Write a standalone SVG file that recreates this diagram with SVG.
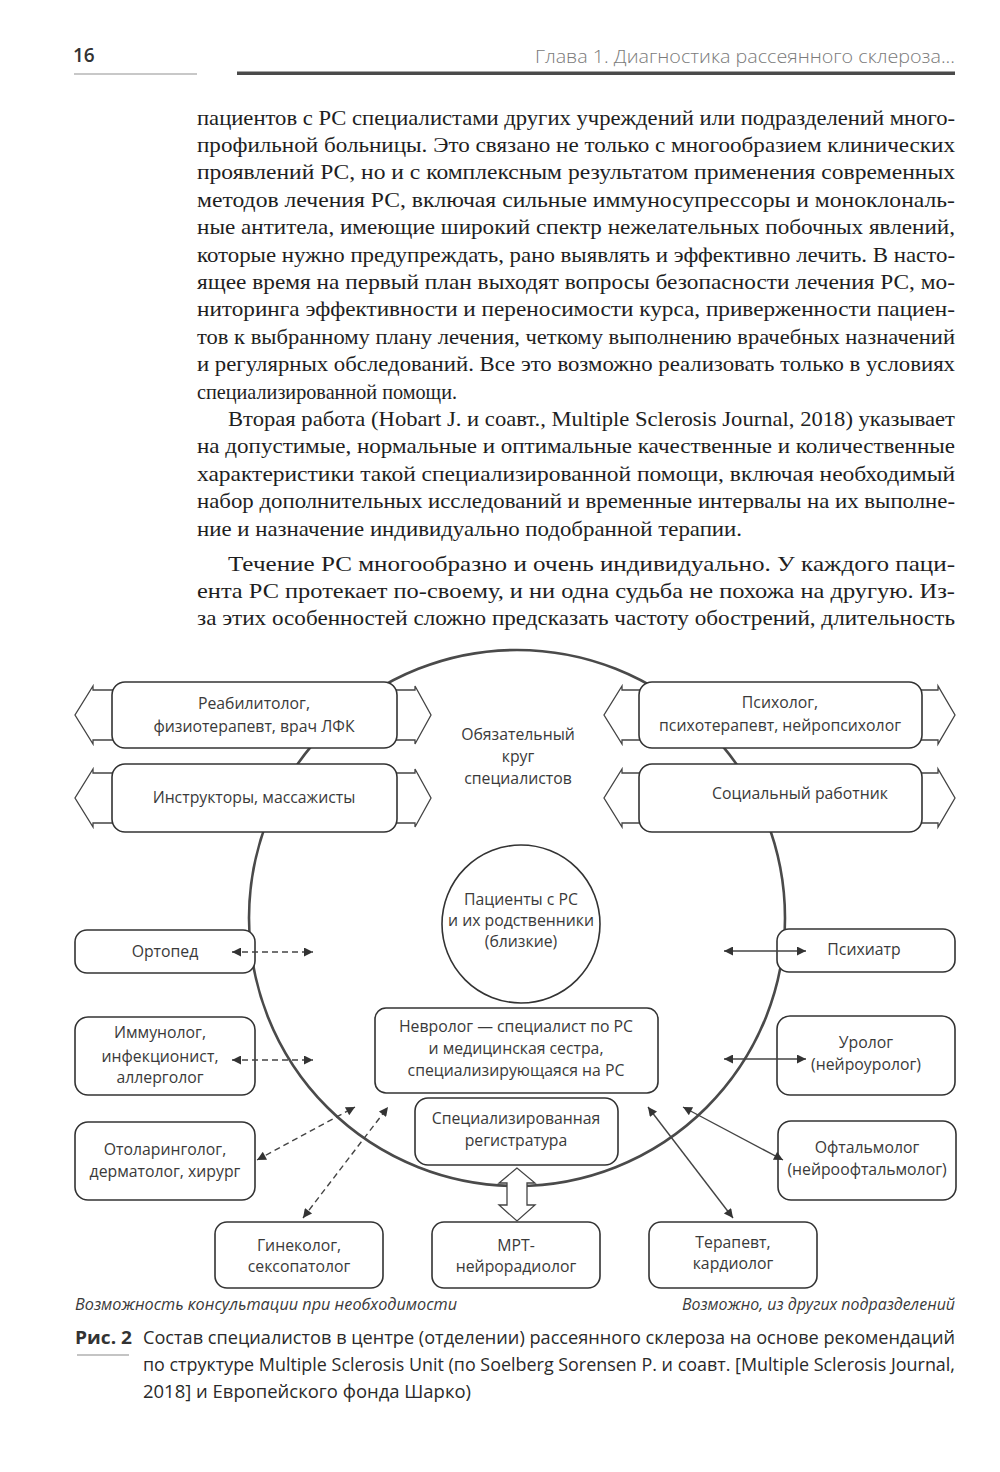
<svg xmlns="http://www.w3.org/2000/svg" width="1000" height="1472" viewBox="0 0 1000 1472">
<style>
.body{font-family:"Liberation Serif","DejaVu Serif",serif;font-size:22px;fill:#1e1e1e}
.d{font-family:"Open Sans","DejaVu Sans",sans-serif;font-size:15.8px;fill:#3a3a3a;text-anchor:middle}
.lg{font-family:"Open Sans","DejaVu Sans",sans-serif;font-size:16px;fill:#3a3a3a;font-style:italic}
.cap{font-family:"Open Sans","DejaVu Sans",sans-serif;font-size:18px;fill:#2a2a2a}
.box{fill:#fff;stroke:#333;stroke-width:1.6}
.dbl{fill:#fff;stroke:#444;stroke-width:1.3;stroke-linejoin:miter}
.con{stroke:#444;stroke-width:1.4;fill:none}
.dash{stroke-dasharray:6,4}
</style>
<defs>
<marker id="ah" viewBox="0 0 10 10" refX="10" refY="5" markerUnits="userSpaceOnUse" markerWidth="14" markerHeight="9" orient="auto-start-reverse">
<path d="M0,0 L10,5 L0,10 z" fill="#333"/>
</marker>
</defs>
<rect width="1000" height="1472" fill="#fff"/>

<!-- header -->
<text x="73" y="62" font-family="Open Sans, DejaVu Sans, sans-serif" font-size="19" font-weight="600" fill="#333">16</text>
<rect x="74" y="73" width="123" height="2" fill="#c8c8c8"/>
<text x="955" y="63" font-family="Open Sans, DejaVu Sans, sans-serif" font-size="18.5" font-weight="300" fill="#7a7a7a" text-anchor="end" textLength="420" lengthAdjust="spacingAndGlyphs">Глава 1. Диагностика рассеянного склероза...</text>
<rect x="237" y="71.5" width="718" height="3.5" fill="#4a4a4a"/>

<!-- body text -->
<g class="body">
<text x="197" y="124.5" textLength="758" lengthAdjust="spacingAndGlyphs">пациентов с РС специалистами других учреждений или подразделений много-</text>
<text x="197" y="151.9" textLength="758" lengthAdjust="spacingAndGlyphs">профильной больницы. Это связано не только с многообразием клинических</text>
<text x="197" y="179.3" textLength="758" lengthAdjust="spacingAndGlyphs">проявлений РС, но и с комплексным результатом применения современных</text>
<text x="197" y="206.7" textLength="758" lengthAdjust="spacingAndGlyphs">методов лечения РС, включая сильные иммуносупрессоры и моноклональ-</text>
<text x="197" y="234.1" textLength="758" lengthAdjust="spacingAndGlyphs">ные антитела, имеющие широкий спектр нежелательных побочных явлений,</text>
<text x="197" y="261.5" textLength="758" lengthAdjust="spacingAndGlyphs">которые нужно предупреждать, рано выявлять и эффективно лечить. В насто-</text>
<text x="197" y="288.9" textLength="758" lengthAdjust="spacingAndGlyphs">ящее время на первый план выходят вопросы безопасности лечения РС, мо-</text>
<text x="197" y="316.3" textLength="758" lengthAdjust="spacingAndGlyphs">ниторинга эффективности и переносимости курса, приверженности пациен-</text>
<text x="197" y="343.7" textLength="758" lengthAdjust="spacingAndGlyphs">тов к выбранному плану лечения, четкому выполнению врачебных назначений</text>
<text x="197" y="371.1" textLength="758" lengthAdjust="spacingAndGlyphs">и регулярных обследований. Все это возможно реализовать только в условиях</text>
<text x="197" y="398.5" textLength="260" lengthAdjust="spacingAndGlyphs">специализированной помощи.</text>
<text x="228" y="425.9" textLength="727" lengthAdjust="spacingAndGlyphs">Вторая работа (Hobart J. и соавт., Multiple Sclerosis Journal, 2018) указывает</text>
<text x="197" y="453.3" textLength="758" lengthAdjust="spacingAndGlyphs">на допустимые, нормальные и оптимальные качественные и количественные</text>
<text x="197" y="480.7" textLength="758" lengthAdjust="spacingAndGlyphs">характеристики такой специализированной помощи, включая необходимый</text>
<text x="197" y="508.1" textLength="758" lengthAdjust="spacingAndGlyphs">набор дополнительных исследований и временные интервалы на их выполне-</text>
<text x="197" y="535.5" textLength="545" lengthAdjust="spacingAndGlyphs">ние и назначение индивидуально подобранной терапии.</text>
<text x="228" y="570.5" textLength="727" lengthAdjust="spacingAndGlyphs">Течение РС многообразно и очень индивидуально. У каждого паци-</text>
<text x="197" y="597.9" textLength="758" lengthAdjust="spacingAndGlyphs">ента РС протекает по-своему, и ни одна судьба не похожа на другую. Из-</text>
<text x="197" y="625.3" textLength="758" lengthAdjust="spacingAndGlyphs">за этих особенностей сложно предсказать частоту обострений, длительность</text>
</g>

<!-- big circle -->
<g id="circle-main">
<circle cx="517" cy="918" r="268" fill="none" stroke="#4a4a4a" stroke-width="2.6"/>
<text class="d" x="518" y="740">Обязательный</text>
<text class="d" x="518" y="762">круг</text>
<text class="d" x="518" y="784">специалистов</text>
</g>

<!-- top left -->
<g id="n-reab">
<polygon class="dbl" points="120,690 93,690 93,686 75,715 93,744 93,740 120,740"/>
<polygon class="dbl" points="390,690 415,690 415,686 431,715 415,744 415,740 390,740"/>
<rect class="box" x="112" y="682" width="285" height="66" rx="13"/>
<text class="d" x="254" y="709">Реабилитолог,</text>
<text class="d" x="254" y="732">физиотерапевт, врач ЛФК</text>
</g>
<g id="n-instr">
<polygon class="dbl" points="120,773 93,773 93,769 75,798 93,827 93,823 120,823"/>
<polygon class="dbl" points="390,773 415,773 415,769 431,798 415,827 415,823 390,823"/>
<rect class="box" x="112" y="764" width="285" height="68" rx="13"/>
<text class="d" x="254" y="803">Инструкторы, массажисты</text>
</g>
<!-- top right -->
<g id="n-psych">
<polygon class="dbl" points="647,690 622,690 622,686 604,715 622,744 622,740 647,740"/>
<polygon class="dbl" points="914,690 938,690 938,686 955,715 938,744 938,740 914,740"/>
<rect class="box" x="639" y="682" width="283" height="66" rx="13"/>
<text class="d" x="780" y="708">Психолог,</text>
<text class="d" x="780" y="731">психотерапевт, нейропсихолог</text>
</g>
<g id="n-social">
<polygon class="dbl" points="647,773 622,773 622,769 604,798 622,827 622,823 647,823"/>
<polygon class="dbl" points="914,773 938,773 938,769 955,798 938,827 938,823 914,823"/>
<rect class="box" x="639" y="764" width="283" height="68" rx="13"/>
<text class="d" x="800" y="799">Социальный работник</text>
</g>

<!-- patients -->
<g id="n-patients">
<circle cx="521" cy="924" r="79" fill="#fff" stroke="#333" stroke-width="1.6"/>
<text class="d" x="521" y="905">Пациенты с РС</text>
<text class="d" x="521" y="926">и их родственники</text>
<text class="d" x="521" y="947">(близкие)</text>
</g>

<g id="n-neuro">
<rect class="box" x="375" y="1008" width="283" height="85" rx="11" stroke-width="2.6"/>
<text class="d" x="516" y="1032">Невролог — специалист по РС</text>
<text class="d" x="516" y="1054">и медицинская сестра,</text>
<text class="d" x="516" y="1076">специализирующаяся на РС</text>
</g>
<g id="n-reg">
<rect class="box" x="415" y="1098" width="203" height="67" rx="13"/>
<text class="d" x="516" y="1124">Специализированная</text>
<text class="d" x="516" y="1146">регистратура</text>
</g>

<g id="n-ortho">
<rect class="box" x="75" y="930" width="180" height="43" rx="12"/>
<text class="d" x="165" y="957">Ортопед</text>
</g>
<g id="n-immuno">
<rect class="box" x="75" y="1017" width="180" height="78" rx="13"/>
<text class="d" x="160" y="1038">Иммунолог,</text>
<text class="d" x="160" y="1062">инфекционист,</text>
<text class="d" x="160" y="1083">аллерголог</text>
</g>
<g id="n-oto">
<rect class="box" x="75" y="1122" width="180" height="78" rx="13"/>
<text class="d" x="165" y="1155">Отоларинголог,</text>
<text class="d" x="165" y="1177">дерматолог, хирург</text>
</g>
<g id="n-psychiatr">
<rect class="box" x="777" y="929" width="178" height="43" rx="12"/>
<text class="d" x="864" y="955">Психиатр</text>
</g>
<g id="n-uro">
<rect class="box" x="777" y="1016" width="178" height="79" rx="13"/>
<text class="d" x="866" y="1048">Уролог</text>
<text class="d" x="866" y="1070">(нейроуролог)</text>
</g>
<g id="n-oft">
<rect class="box" x="778" y="1121" width="178" height="79" rx="13"/>
<text class="d" x="867" y="1153">Офтальмолог</text>
<text class="d" x="867" y="1175">(нейроофтальмолог)</text>
</g>
<g id="n-gyn">
<rect class="box" x="215" y="1222" width="168" height="66" rx="12"/>
<text class="d" x="299" y="1251">Гинеколог,</text>
<text class="d" x="299" y="1272">сексопатолог</text>
</g>
<g id="n-mrt">
<rect class="box" x="432" y="1222" width="168" height="66" rx="12"/>
<text class="d" x="516" y="1251">МРТ-</text>
<text class="d" x="516" y="1272">нейрорадиолог</text>
</g>
<g id="n-ther">
<rect class="box" x="649" y="1222" width="168" height="66" rx="12"/>
<text class="d" x="733" y="1248">Терапевт,</text>
<text class="d" x="733" y="1269">кардиолог</text>
</g>

<!-- connectors -->
<g id="connectors">
<line class="con dash" x1="232" y1="952" x2="313" y2="952" marker-start="url(#ah)" marker-end="url(#ah)"/>
<line class="con dash" x1="232" y1="1060" x2="313" y2="1060" marker-start="url(#ah)" marker-end="url(#ah)"/>
<line class="con" x1="724" y1="951" x2="806" y2="951" marker-start="url(#ah)" marker-end="url(#ah)"/>
<line class="con" x1="724" y1="1059" x2="806" y2="1059" marker-start="url(#ah)" marker-end="url(#ah)"/>
<line class="con dash" x1="257" y1="1160" x2="355" y2="1107" marker-start="url(#ah)" marker-end="url(#ah)"/>
<line class="con dash" x1="303" y1="1218" x2="388" y2="1107" marker-start="url(#ah)" marker-end="url(#ah)"/>
<line class="con" x1="783" y1="1160" x2="683" y2="1107" marker-start="url(#ah)" marker-end="url(#ah)"/>
<line class="con" x1="733" y1="1218" x2="648" y2="1107" marker-start="url(#ah)" marker-end="url(#ah)"/>
<polygon class="dbl" points="517,1168 499,1183 507,1183 507,1205 499,1205 517,1221 535,1205 527,1205 527,1183 535,1183"/>
</g>

<!-- legend -->
<text class="lg" x="75" y="1310" textLength="382" lengthAdjust="spacingAndGlyphs">Возможность консультации при необходимости</text>
<text class="lg" x="955" y="1310" text-anchor="end" textLength="273" lengthAdjust="spacingAndGlyphs">Возможно, из других подразделений</text>

<!-- caption -->
<text x="75" y="1344" font-family="Open Sans, DejaVu Sans, sans-serif" font-size="18" font-weight="700" fill="#333" textLength="57" lengthAdjust="spacingAndGlyphs">Рис. 2</text>
<rect x="77" y="1354" width="52" height="2" fill="#c4c4c4"/>
<text class="cap" x="143" y="1344" textLength="812" lengthAdjust="spacingAndGlyphs">Состав специалистов в центре (отделении) рассеянного склероза на основе рекомендаций</text>
<text class="cap" x="143" y="1371" textLength="812" lengthAdjust="spacingAndGlyphs">по структуре Multiple Sclerosis Unit (по Soelberg Sorensen P. и соавт. [Multiple Sclerosis Journal,</text>
<text class="cap" x="143" y="1398" textLength="328" lengthAdjust="spacingAndGlyphs">2018] и Европейского фонда Шарко)</text>
</svg>
